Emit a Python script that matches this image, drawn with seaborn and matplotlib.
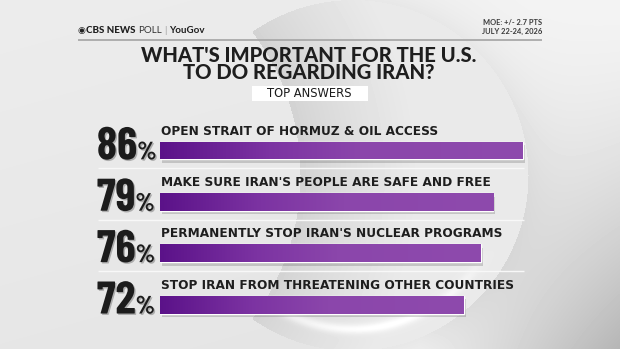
import os
import numpy as np
import pandas as pd
import matplotlib
matplotlib.use("Agg")
import matplotlib.pyplot as plt
import matplotlib.patheffects as pe
from matplotlib import font_manager as fm
from matplotlib.colors import LinearSegmentedColormap
from matplotlib.patches import Rectangle
from matplotlib.textpath import TextPath
import seaborn as sns

# ---------------- data ----------------
answers = [
    "OPEN STRAIT OF HORMUZ & OIL ACCESS",
    "MAKE SURE IRAN'S PEOPLE ARE SAFE AND FREE",
    "PERMANENTLY STOP IRAN'S NUCLEAR PROGRAMS",
    "STOP IRAN FROM THREATENING OTHER COUNTRIES",
]
values = [86, 79, 76, 72]
title_lines = ["WHAT'S IMPORTANT FOR THE U.S.", "TO DO REGARDING IRAN?"]
subtitle = "TOP ANSWERS"
source_parts = ["CBS NEWS", "POLL", "|", "YouGov"]
moe_lines = ["MOE: +/- 2.7 PTS", "JULY 22-24, 2026"]

# ---------------- style ----------------
sns.set_theme(style="white")
plt.rcParams["font.family"] = ["DejaVu Sans"]

names = {f.name for f in fm.fontManager.ttflist}
def pick(*cands):
    for c in cands:
        if c in names:
            return c
    return "DejaVu Sans"
TITLE = pick("Lato", "Open Sans", "DejaVu Sans")

# condensed bold face for the big percentages
by_base = {os.path.basename(f.fname).lower(): f.fname for f in fm.fontManager.ttflist}
num_file = None
for b in ["oswald-bold.ttf", "oswald-semibold.ttf", "barlowcondensed-bold.ttf",
          "robotocondensed-bold.ttf", "fjallaone-regular.ttf",
          "liberationsansnarrow-bold.ttf", "asapcondensed-bold.ttf",
          "dejavusanscondensed-bold.ttf"]:
    if b in by_base:
        num_file = by_base[b]
        break
if num_file:
    num_fp = fm.FontProperties(fname=num_file)
else:
    num_fp = fm.FontProperties(family="DejaVu Sans", weight="bold")
num_prop = dict(fontproperties=num_fp)

# glyph metrics (per em) to size the big numbers
ext86 = TextPath((0, 0), "86", size=100, prop=num_fp).get_extents()
extp = TextPath((0, 0), "%", size=100, prop=num_fp).get_extents()
cap_r = ext86.height / 100
w86_r = ext86.x1 / 100
wp_r = extp.x1 / 100
em_px = 33.0 / cap_r
if em_px * (w86_r + wp_r * 0.55) > 62:
    em_px = 62 / (w86_r + wp_r * 0.55)
num_size = em_px * 72 / 100
pct_size = num_size * 0.55

W, H = 620, 349
fig = plt.figure(figsize=(W / 100, H / 100), dpi=100)
r = fig.canvas.get_renderer()

# ---------------- decorative background ----------------
yy, xx = np.mgrid[0:H, 0:W].astype(float)
img = 236.0 - 6 * (yy / H) - 3 * (xx / W)
dL = np.hypot(xx - 62.6, yy - 175) - 237.4
dR = np.hypot(xx - 352.6, yy - 175) - 175.4
ribbon = (dL > 0) & (dR < 0)
t = np.clip(dL / 120, 0, 1) ** 0.8
rib = 210 + 24 * t
stripe = np.exp(-((dR + 22) / 5) ** 2) * np.clip((yy - 250) / 80, 0, 1)
rib = rib + 24 * stripe
img = np.where(ribbon, rib, img)
right = (dR >= 0) & (xx > 352)
rshade = 243 - 62 * (yy / H) ** 1.6 * np.clip((xx - 420) / 200, 0, 1) \
         - 12 * np.exp(-dR / 25)
img = np.where(right, rshade, img)
img = np.clip(img, 0, 255)

bg = fig.add_axes([0, 0, 1, 1])
bg.imshow(img, cmap="gray", vmin=0, vmax=255, extent=(0, W, H, 0),
          aspect="auto", interpolation="bilinear")
bg.set_xlim(0, W)
bg.set_ylim(H, 0)
bg.axis("off")

# ---------------- header ----------------
hb = 33.3
eye = bg.text(78, hb, "◉", fontsize=6.5, color="#222222", va="baseline", ha="left")
def after(prev, s, gap, **kw):
    bb = prev.get_window_extent(renderer=r)
    return bg.text(bb.x1 + gap, hb, s, va="baseline", ha="left", **kw)
p1 = after(eye, source_parts[0], 0.5, fontsize=7, fontweight="black", family=TITLE, color="#1e1e1e")
p2 = after(p1, source_parts[1], 1.8, fontsize=7, fontweight="normal", family=TITLE, color="#333333")
p3 = after(p2, source_parts[2], 2.5, fontsize=6.5, fontweight="normal", family=TITLE, color="#9a9a9a")
p4 = after(p3, source_parts[3], 2.5, fontsize=7, fontweight="bold", family=TITLE, color="#1e1e1e")

bg.text(542, 25.3, moe_lines[0], ha="right", va="baseline", fontsize=5.4,
        family=TITLE, fontweight="bold", color="#3a3a3a")
bg.text(542, 33.7, moe_lines[1], ha="right", va="baseline", fontsize=5.4,
        family=TITLE, fontweight="bold", color="#3a3a3a")
bg.plot([78, 542], [40, 40], color="#a9a9a9", lw=1.3, solid_capstyle="butt")

for txt, base in zip(title_lines, [61.7, 79.0]):
    bg.text(309, base, txt, ha="center", va="baseline", fontsize=14.6,
            family=TITLE, fontweight="black", color="#1e1e1e")

bg.add_patch(Rectangle((252, 86), 116.3, 14.7, facecolor="white", edgecolor="none"))
bg.text(309.5, 97.3, subtitle, ha="center", va="baseline", fontsize=8.3,
        color="#1a1a1a")

# ---------------- bars ----------------
ax = fig.add_axes([160.1 / W, 1 - 330.4 / H, 421.6 / W, 205.6 / H])
ax.patch.set_alpha(0)
df = pd.DataFrame({"answer": answers, "value": values})
sns.barplot(data=df, x="value", y="answer", orient="h", color="#8a44aa",
            width=0.344, saturation=1, ax=ax)
ax.set_xlim(0, 100)
ax.set_ylim(len(values) - 0.5, -0.5)
ax.axis("off")

cmap = LinearSegmentedColormap.from_list(
    "purp", [(0, "#5b1289"), (0.3, "#7c33a2"), (0.55, "#8b46ab"), (1, "#8e4aad")])
grad = np.linspace(0, 1, 256).reshape(1, -1)
for p in ax.patches:
    p.set_path_effects([pe.SimplePatchShadow(offset=(1.5, -2.5), shadow_rgbFace="#555555", alpha=0.25),
                        pe.Normal()])
    x0, y0, w, h = p.get_x(), p.get_y(), p.get_width(), p.get_height()
    im = ax.imshow(grad, cmap=cmap, extent=(x0, x0 + w, y0 + h, y0), aspect="auto",
                   zorder=p.get_zorder() + 0.1, interpolation="bilinear")
    im.set_clip_path(p)
ax.set_xlim(0, 100)
ax.set_ylim(len(values) - 0.5, -0.5)

# separators
ax.hlines(np.arange(len(values) - 1) + 0.35, -14.7, 86.3, color="#f8f8f8", lw=1.0,
          clip_on=False, zorder=0.5)

shadow = [pe.withSimplePatchShadow(offset=(1, -1), shadow_rgbFace="#000000", alpha=0.25)]
for i, (a, v) in enumerate(zip(answers, values)):
    ax.text(0.1, i - 0.31, a, ha="left", va="baseline", fontsize=8.7,
            fontweight="bold", color="#1e1e1e", clip_on=False)
    nt = ax.text(-15.0, i + 0.172, f"{v}", ha="left", va="baseline", fontsize=num_size,
                 color="#1c1c1c", clip_on=False, path_effects=shadow, **num_prop)
    bb = nt.get_window_extent(renderer=r)
    xd = ax.transData.inverted().transform((bb.x1, 0))[0]
    ax.text(xd, i + 0.172, "%", ha="left", va="baseline", fontsize=pct_size,
            color="#1c1c1c", clip_on=False, path_effects=shadow, **num_prop)

fig.savefig("out.png", dpi=100)
